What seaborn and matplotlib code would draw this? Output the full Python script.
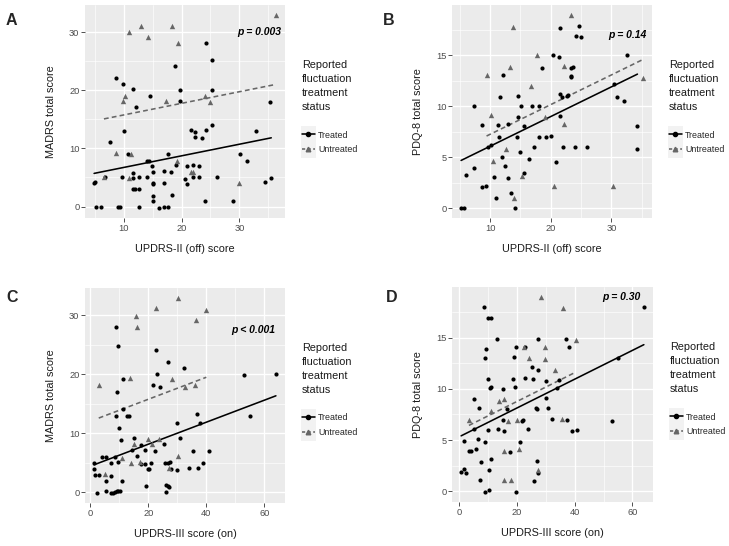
import numpy as np
import matplotlib
matplotlib.use("Agg")
import matplotlib.pyplot as plt
import seaborn as sns
from matplotlib.ticker import MultipleLocator
from matplotlib.lines import Line2D
from matplotlib.patches import Rectangle

# values (x, y)
# A: MADRS total score vs UPDRS-II (off)
a_treated = np.array([
    (4.9, 4.0), (5.0, 4.2), (5.2, 0), (6.1, 0), (6.8, 5.0), (7.6, 11.1), (8.6, 22.1),
    (9.0, 0), (9.3, 0), (9.8, 5.0), (9.9, 21.0), (10.1, 13.0), (10.7, 9.0), (11.7, 20.2),
    (11.7, 5.8), (11.7, 4.9), (11.6, 3.1), (12.0, 3.0), (12.1, 17.2), (12.6, 3.1),
    (12.6, 5.0), (12.6, 0), (14.0, 5.0), (14.0, 7.8), (14.3, 7.8), (14.6, 19.0),
    (14.9, 7.0), (15.0, 5.9), (15.0, 4.0), (15.0, 3.8), (15.0, 1.9), (15.0, 0.9),
    (16.1, -0.3), (17.0, 0), (17.6, 0), (17.0, 6.1), (17.0, 4.0), (17.7, 9.0), (18.1, 5.9),
    (18.3, 2.0), (18.9, 24.2), (19.0, 7.1), (19.8, 20.1), (19.8, 18.1), (20.6, 4.8),
    (20.9, 3.9), (20.9, 6.9), (21.6, 13.2), (21.9, 7.1), (21.9, 5.0), (22.3, 12.8),
    (22.3, 12.0), (23.1, 6.9), (23.1, 5.0), (23.6, 11.8), (24.0, 0.9), (24.2, 28.2),
    (24.3, 13.2), (25.3, 25.2), (25.3, 20.1), (25.3, 14.1), (26.2, 5.0), (28.9, 0.9),
    (30.1, 9.0), (31.3, 7.9), (32.8, 13.0), (34.5, 4.2), (35.2, 18.0), (35.5, 4.9)])
a_untreated = np.array([
    (6.6, 5.0), (8.7, 9.2), (9.9, 18.2), (10.2, 19.1), (10.9, 30.0), (10.9, 4.9),
    (11.3, 9.1), (13.0, 31.0), (14.2, 29.1), (17.3, 18.2), (18.3, 31.1), (19.3, 7.8),
    (19.4, 28.2), (21.7, 6.0), (22.0, 6.0), (24.1, 19.1), (24.9, 18.0), (30.0, 4.1),
    (36.3, 33.0)])

# B: PDQ-8 total score vs UPDRS-II (off)
b_treated = np.array([
    (7.3, 10.0), (8.6, 8.2), (11.3, 8.2), (11.6, 10.9), (12.1, 13.1), (12.9, 8.3),
    (14.6, 11.0), (14.6, 9.0), (15.1, 10.0), (15.6, 8.1), (16.9, 10.0), (18.1, 10.0),
    (18.5, 13.8), (20.4, 15.0), (21.3, 14.8), (21.6, 17.7), (21.5, 11.2), (21.8, 10.9),
    (22.6, 11.0), (22.8, 11.1), (21.6, 9.1), (23.4, 13.8), (23.7, 13.9), (23.3, 13.0),
    (23.3, 12.9), (24.2, 16.9), (24.7, 17.9), (25.0, 16.8),
    (5.2, 0.0), (5.7, 0.0), (6.0, 3.3), (7.4, 4.0), (8.6, 2.1), (9.3, 2.2), (9.6, 6.0),
    (10.1, 6.2), (10.6, 3.1), (11.0, 1.0), (11.5, 7.0), (12.0, 5.0), (12.5, 4.2),
    (13.0, 3.0), (13.4, 1.5), (14.1, 0.0), (14.5, 7.0), (15.0, 5.5), (15.6, 3.5),
    (16.4, 4.8), (17.2, 6.0), (18.0, 7.0), (19.2, 7.0), (20.0, 7.1), (20.8, 4.5),
    (22.0, 6.0), (24.0, 6.0), (26.0, 6.0),
    (30.4, 12.2), (31.0, 10.9), (32.0, 10.5), (32.6, 15.0), (34.2, 8.1), (34.3, 5.8)])
b_untreated = np.array([
    (9.4, 13.1), (10.1, 9.2), (10.4, 4.6), (12.6, 5.8), (13.2, 13.9), (13.8, 17.8),
    (14.0, 1.0), (15.2, 3.2), (16.7, 12.0), (17.8, 15.0), (19.1, 9.0), (20.6, 2.2),
    (22.1, 14.0), (22.1, 8.3), (23.3, 19.0), (30.3, 2.2), (35.2, 12.8)])

# C: MADRS total score vs UPDRS-III (on)
c_treated = np.array([
    (8.7, 28.1), (9.7, 24.8), (9.1, 17.0), (11.1, 19.2), (22.5, 24.1), (23.0, 20.0),
    (21.7, 18.2), (24.1, 17.8), (26.7, 22.1), (32.2, 21.0), (53.1, 19.8), (64.0, 20.0),
    (11.1, 14.1), (12.8, 12.9), (13.2, 12.9), (8.7, 13.0), (9.8, 10.9), (10.7, 8.8),
    (15.0, 9.1), (17.6, 8.0), (25.4, 8.1), (29.9, 11.8), (36.8, 13.2), (37.8, 11.8),
    (30.8, 9.1), (54.9, 12.9), (14.5, 7.2), (16.2, 6.2), (19.0, 7.2), (22.2, 7.0),
    (35.4, 7.0), (40.8, 7.0), (1.3, 5.0), (3.9, 6.0), (5.3, 6.0), (9.7, 5.1), (7.2, 5.0),
    (8.6, 5.9), (17.4, 4.8), (19.0, 4.8), (19.9, 4.0), (20.2, 3.9), (20.9, 4.9),
    (25.7, 4.9), (26.8, 5.0), (27.4, 5.1), (27.7, 4.0), (29.9, 3.8), (34.2, 4.1),
    (37.2, 4.1), (38.8, 5.0), (1.3, 3.9), (1.5, 2.9), (2.9, 2.9), (7.0, 2.8), (5.3, 1.9),
    (10.8, 1.9), (5.3, 0.2), (2.2, -0.2), (7.2, -0.2), (7.9, -0.1), (8.4, 0.0), (9.1, 0.1),
    (9.6, 0.1), (10.1, 0.1), (19.3, 1.1), (26.2, 0.0), (26.2, 1.2), (26.7, 1.0), (27.0, 0.8)])
c_untreated = np.array([
    (2.9, 18.1), (13.7, 19.3), (15.9, 29.9), (16.1, 28.1), (22.8, 31.2), (28.3, 19.2),
    (30.3, 33.0), (36.4, 29.2), (40.0, 30.9), (32.5, 17.8), (36.1, 18.1), (15.0, 8.2),
    (19.9, 9.0), (21.1, 8.2), (23.7, 9.0), (10.8, 5.8), (14.2, 4.9), (17.0, 5.1),
    (27.1, 4.1), (30.4, 6.2), (4.9, 3.0)])

# D: PDQ-8 total score vs UPDRS-III (on)
d_treated = np.array([
    (8.5, 18.0), (9.8, 16.9), (11.0, 16.9), (13.0, 14.9), (9.1, 13.9), (8.9, 13.0),
    (19.6, 14.1), (22.9, 14.1), (27.2, 14.9), (19.0, 13.1), (25.2, 12.1), (27.1, 11.8),
    (10.0, 11.0), (18.7, 11.0), (22.6, 11.1), (25.7, 11.0), (10.7, 10.1), (11.0, 10.2),
    (15.2, 10.0), (19.2, 10.2), (5.2, 9.0), (6.7, 8.1), (29.9, 10.8), (30.0, 9.1),
    (26.5, 8.1), (26.9, 8.0), (36.9, 14.9), (38.1, 14.1), (34.4, 10.9), (34.0, 10.1),
    (30.9, 8.1), (16.4, 8.0), (5.0, 6.1), (15.2, 7.0), (21.8, 6.9), (22.0, 7.0),
    (6.6, 5.1), (9.8, 6.0), (13.3, 6.1), (15.6, 5.9), (8.9, 4.8), (1.7, 4.9), (5.7, 4.1),
    (3.3, 3.9), (4.0, 3.9), (17.5, 3.8), (21.1, 4.8), (23.8, 6.1), (32.1, 7.1),
    (37.2, 7.0), (38.9, 5.9), (40.7, 6.0), (53.1, 6.9), (7.5, 2.9), (11.1, 3.1),
    (0.6, 1.9), (1.7, 2.2), (2.3, 1.8), (7.1, 1.1), (10.3, 2.1), (9.0, -0.1), (10.4, 0.1),
    (19.7, -0.1), (26.0, 1.0), (27.0, 3.0), (27.3, 1.8), (55.0, 13.0), (64.0, 18.0)])
d_untreated = np.array([
    (28.2, 19.0), (35.8, 17.9), (40.4, 14.8), (29.8, 14.1), (29.7, 12.9), (22.3, 14.1),
    (24.0, 13.0), (33.0, 11.8), (13.8, 8.8), (15.6, 9.0), (11.0, 7.8), (16.9, 6.9),
    (3.3, 7.0), (20.0, 6.95), (35.6, 7.1), (15.6, 3.9), (20.8, 4.1), (15.6, 1.1),
    (18.0, 1.1), (27.3, 2.1)])

x_titles = ["UPDRS-II (off) score", "UPDRS-II (off) score",
            "UPDRS-III score (on)", "UPDRS-III score (on)"]
y_titles = ["MADRS total score", "PDQ-8 total score",
            "MADRS total score", "PDQ-8 total score"]
p_labels = ["p = 0.003", "p = 0.14", "p < 0.001", "p = 0.30"]
p_pos = [(29.7, 30), (29.5, 17), (48.7, 27.5), (49.5, 19)]
panel_letters = ["A", "B", "C", "D"]
legend_title = ["Reported", "fluctuation", "treatment", "status"]
legend_labels = ["Treated", "Untreated"]

W, H = 729, 546
# panel boxes in pixels: left, top, right, bottom
boxes = [(85, 5, 285, 218), (452, 5, 652, 218), (85, 288, 285, 503), (452, 287, 653, 502)]
x_steps = [10, 10, 20, 20]
y_steps = [10, 5, 10, 5]
letter_xy = [(11, 20.5), (388.5, 20.5), (12, 297), (391.5, 298)]

GRAY = "#666666"
sns.set_theme(style="darkgrid")
plt.rcParams["font.family"] = ["Liberation Sans", "DejaVu Sans"]


def fx(px):
    return px / W


def fy(py):
    return 1 - py / H


def common_slope_fit(tr, un):
    # score ~ severity + treatment group (parallel lines)
    x = np.r_[tr[:, 0], un[:, 0]]
    y = np.r_[tr[:, 1], un[:, 1]]
    g = np.r_[np.zeros(len(tr)), np.ones(len(un))]
    X = np.column_stack([np.ones_like(x), x, g])
    coef, *_ = np.linalg.lstsq(X, y, rcond=None)
    return coef


fig = plt.figure(figsize=(W / 100, H / 100), dpi=100)
fig.patch.set_facecolor("white")

datasets = [(a_treated, a_untreated), (b_treated, b_untreated),
            (c_treated, c_untreated), (d_treated, d_untreated)]

for i, (tr, un) in enumerate(datasets):
    l, t, r, b = boxes[i]
    ax = fig.add_axes([fx(l), fy(b), (r - l) / W, (b - t) / H])
    ax.set_facecolor("#EBEBEB")
    for s in ax.spines.values():
        s.set_visible(False)

    b0, b1, b2 = common_slope_fit(tr, un)
    xs_t = np.array([tr[:, 0].min(), tr[:, 0].max()])
    xs_u = np.array([un[:, 0].min(), un[:, 0].max()])
    ax.plot(xs_t, b0 + b1 * xs_t, color="black", lw=1.15, zorder=2)
    ax.plot(xs_u, b0 + b2 + b1 * xs_u, color=GRAY, lw=1.15, ls=(0, (3, 2)), zorder=2)

    sns.scatterplot(x=tr[:, 0], y=tr[:, 1], marker="o", color="black", s=9,
                    linewidth=0, ax=ax, zorder=3)
    sns.scatterplot(x=un[:, 0], y=un[:, 1], marker="^", color=GRAY, s=15,
                    linewidth=0, ax=ax, zorder=3)
    ax.margins(0.05)

    ax.xaxis.set_major_locator(MultipleLocator(x_steps[i]))
    ax.xaxis.set_minor_locator(MultipleLocator(x_steps[i] / 2))
    ax.yaxis.set_major_locator(MultipleLocator(y_steps[i]))
    ax.yaxis.set_minor_locator(MultipleLocator(y_steps[i] / 2))
    ax.grid(which="major", color="white", lw=0.95)
    ax.grid(which="minor", color="white", lw=0.45)
    ax.set_axisbelow(True)
    ax.tick_params(which="major", length=2.8, width=0.6, color="#333333",
                   labelsize=6.7, labelcolor="#4D4D4D", pad=1.2,
                   bottom=True, left=True)
    ax.tick_params(which="minor", length=0)

    ax.set_xlabel(x_titles[i], fontsize=7.8, color="#1a1a1a")
    ax.set_ylabel(y_titles[i], fontsize=7.8, color="#1a1a1a")
    ax.yaxis.set_label_coords(-0.145, 0.5)
    ax.xaxis.set_label_coords(0.5, -0.12)

    ax.text(p_pos[i][0], p_pos[i][1], p_labels[i], fontsize=7.5, fontweight="bold",
            fontstyle="italic", ha="left", va="center", color="black", zorder=4)

    fig.text(fx(letter_xy[i][0]), fy(letter_xy[i][1]), panel_letters[i],
             fontsize=11.5, fontweight="bold", ha="center", va="center")

    # legend: title lines, grey key boxes, then entries
    lx = r + 17
    ty0 = t + 60
    for k, line in enumerate(legend_title):
        fig.text(fx(lx), fy(ty0 + 14 * k), line, fontsize=7.8, ha="left",
                 va="center", color="#1a1a1a")
    for k in range(2):
        fig.add_artist(Rectangle((fx(lx - 1), fy(t + 137 + 16 * k)), 15 / W, 16 / H,
                                 transform=fig.transFigure, facecolor="#F2F2F2",
                                 edgecolor="none", zorder=-1))
    handles = [Line2D([], [], color="black", lw=1.15, marker="o", markersize=3),
               Line2D([], [], color=GRAY, lw=1.15, ls=(0, (2, 1.5)), marker="^",
                      markersize=3.3)]
    ax.legend(handles, legend_labels, loc="upper left",
              bbox_to_anchor=(fx(lx), fy(t + 125.5)), bbox_transform=fig.transFigure,
              frameon=False, borderpad=0, borderaxespad=0, handlelength=1.45,
              handletextpad=0.35, labelspacing=0.62, fontsize=6.4)

fig.savefig("out.png", dpi=100)
